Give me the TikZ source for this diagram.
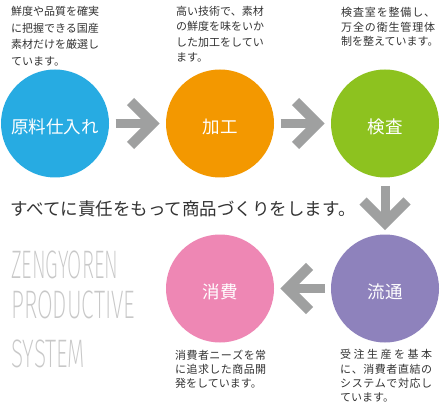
\documentclass[tikz,border=0pt]{standalone}
\usepackage{fontspec}
\usepackage{graphicx}
\newfontfamily\jp{Noto Sans CJK JP}
\newfontfamily\thinfont{Fira Sans ExtraLight}
\definecolor{cblue}{HTML}{27ABE2}
\definecolor{corange}{HTML}{F39800}
\definecolor{cgreen}{HTML}{8DC21F}
\definecolor{cpink}{HTML}{EE87B4}
\definecolor{cpurple}{HTML}{8E82BC}
\definecolor{arrowgray}{HTML}{9FA0A0}
\definecolor{txt}{HTML}{333333}
\definecolor{logogray}{HTML}{C8C8C8}
% spread the characters of a line over a given width
\def\jl#1#2{\hbox to #1{\jlaux#2\relax}}
\def\jlaux#1{#1\futurelet\jlnext\jlcheck}
\def\jlcheck{\ifx\jlnext\relax\expandafter\jlend\else\hfil\expandafter\jlaux\fi}
\def\jlend\relax{}
\tikzset{
  circ/.style={circle, minimum size=108pt, inner sep=0pt, draw=none},
  lbl/.style={text=white, font=\jp\fontsize{17.5pt}{20pt}\selectfont, inner sep=0pt},
  desc/.style={text=txt, anchor=north west, inner sep=0pt, align=left},
  logo/.style={anchor=south west, inner sep=0pt, text=logogray},
  garrow/.pic={
    \draw[line width=9pt, arrowgray] (-22,0) -- (14,0);
    \draw[line width=10pt, arrowgray, line join=miter, miter limit=10] (-7,22) -- (15,0) -- (-7,-22);
  }
}
\begin{document}
\begin{tikzpicture}[x=1pt, y=-1pt]
\useasboundingbox[fill=white] (0,0) rectangle (443,411);
% circles
\node[circ, fill=cblue]   (c1) at (55,123.5)  {};
\node[circ, fill=corange] (c2) at (220,123.5) {};
\node[circ, fill=cgreen]  (c3) at (385,123.5) {};
\node[circ, fill=cpurple] (c4) at (385,288.5) {};
\node[circ, fill=cpink]   (c5) at (220,288.5) {};
% circle labels
\node[lbl] (l1) at ([yshift=-3pt]c1.center) {原料仕入れ};
\node[lbl] (l2) at ([yshift=-3pt]c2.center) {加工};
\node[lbl] (l3) at ([yshift=-3pt]c3.center) {検査};
\node[lbl] (l4) at ([yshift=-3pt]c4.center) {流通};
\node[lbl] (l5) at ([yshift=-3pt]c5.center) {消費};
% arrows
\path (c1) -- (c2) coordinate[midway] (m12);
\path (c2) -- (c3) coordinate[midway] (m23);
\path (c3) -- (c4) coordinate[midway] (m34);
\path (c4) -- (c5) coordinate[midway] (m45);
\pic at (m12) {garrow};
\pic at (m23) {garrow};
\pic[rotate=-90] at ([yshift=-2pt]m34) {garrow};
\pic[rotate=180] at (m45) {garrow};
% descriptions
\node[desc, font=\jp\fontsize{11pt}{16.7pt}\selectfont] (d1) at (11,6)
  {鮮度や品質を確実\\に把握できる国産\\素材だけを厳選し\\ています。};
\node[desc, font=\jp\fontsize{11pt}{15.5pt}\selectfont] (d2) at (176,6)
  {高い技術で、素材\\の鮮度を味をいか\\した加工をしてい\\ます。};
\node[desc, font=\jp\fontsize{11pt}{14.2pt}\selectfont] (d3) at (341,7.5)
  {\jl{94pt}{検査室を整備し、}\\\jl{94pt}{万全の衛生管理体}\\制を整えています。};
\node[desc, font=\jp\fontsize{11pt}{14pt}\selectfont] (d5) at (175,349.5)
  {\jl{91pt}{消費者ニーズを常}\\\jl{91pt}{に追求した商品開}\\発をしています。};
\node[desc, font=\jp\fontsize{11pt}{14.3pt}\selectfont] (d4) at (340,349.5)
  {\jl{92pt}{受注生産を基本}\\\jl{92pt}{に、消費者直結の}\\\jl{92pt}{システムで対応し}\\ています。};
% main statement
\node[anchor=west, inner sep=0pt, text=txt, font=\jp\fontsize{17.5pt}{20pt}\selectfont] (main) at (10,209)
  {すべてに責任をもって商品づくりをします。};
% logo text
\node[logo] (z1) at (11,279.3) {\resizebox{107pt}{27.6pt}{\thinfont ZENGYOREN}};
\node[logo] (z2) at (11,319.3) {\resizebox{124pt}{27.6pt}{\thinfont PRODUCTIVE}};
\node[logo] (z3) at (11,368)   {\resizebox{74pt}{27.6pt}{\thinfont SYSTEM}};
\end{tikzpicture}
\end{document}
